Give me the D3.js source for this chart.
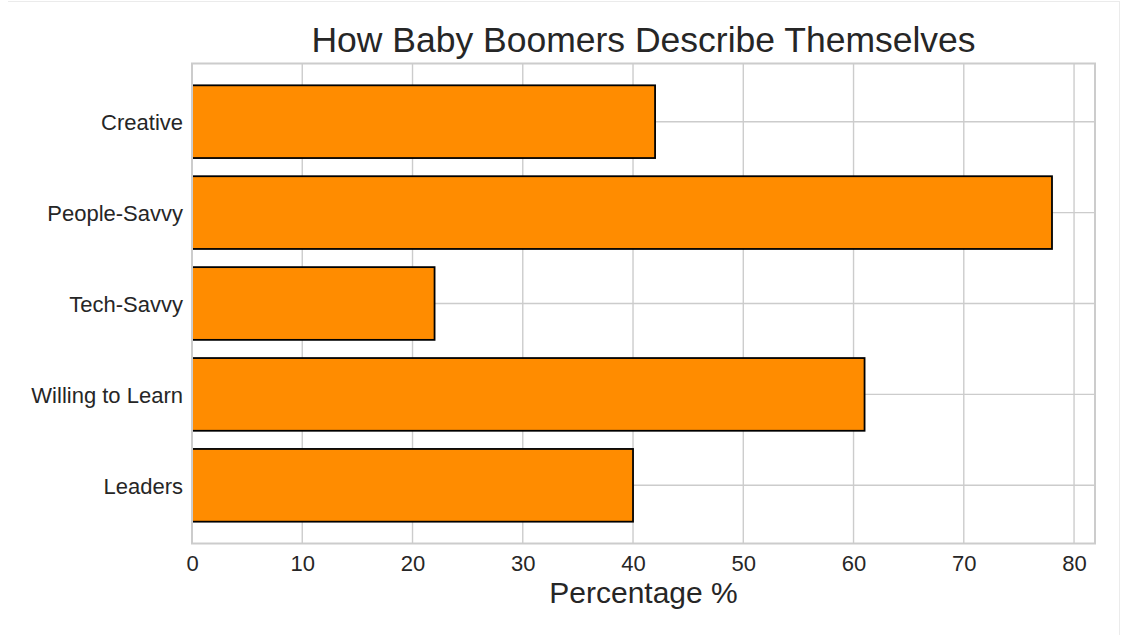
<!DOCTYPE html>
<html>
<head>
<meta charset="utf-8">
<script src="https://cdn.jsdelivr.net/npm/d3@7"></script>
<style>
  body { margin: 0; background: #fff; }
  svg { display: block; font-family: "Liberation Sans", Arial, sans-serif; }
</style>
</head>
<body>
<svg id="chart" width="1127" height="635"></svg>
<script>
const categories = ["Creative", "People-Savvy", "Tech-Savvy", "Willing to Learn", "Leaders"];
const percentages = [42, 78, 22, 61, 40];
const xTicks = [0, 10, 20, 30, 40, 50, 60, 70, 80];

const svg = d3.select("#chart");
const margin = {top: 63.5, right: 32, bottom: 91.5, left: 192};
const W = 1127, H = 635;
const plotW = W - margin.left - margin.right;
const plotH = H - margin.top - margin.bottom;
const textColor = "#262626";
const gridColor = "#cccccc";

// faint frame of the figure
svg.append("line").attr("x1", 8).attr("x2", 1119.5).attr("y1", 1.5).attr("y2", 1.5)
    .attr("stroke", "#ebebeb").attr("stroke-width", 1);
svg.append("line").attr("x1", 1119.5).attr("x2", 1119.5).attr("y1", 1).attr("y2", H)
    .attr("stroke", "#ebebeb").attr("stroke-width", 1);

const g = svg.append("g").attr("transform", `translate(${margin.left},${margin.top})`);

let x = d3.scaleLinear()
    .domain([0, d3.max(percentages) * 1.05])
    .range([0, plotW]);
let y = d3.scaleBand()
    .domain(categories)
    .range([0, plotH])
    .paddingInner(0.2)
    .paddingOuter(0.24);

// grid
g.append("g").selectAll("line").data(xTicks).enter().append("line")
    .attr("x1", d => x(d)).attr("x2", d => x(d))
    .attr("y1", 0).attr("y2", plotH)
    .attr("stroke", gridColor).attr("stroke-width", 1.4);
g.append("g").selectAll("line").data(categories).enter().append("line")
    .attr("x1", 0).attr("x2", plotW)
    .attr("y1", d => y(d) + y.bandwidth() / 2).attr("y2", d => y(d) + y.bandwidth() / 2)
    .attr("stroke", gridColor).attr("stroke-width", 1.4);

// bars
g.append("g").selectAll("rect").data(percentages).enter().append("rect")
    .attr("x", x(0))
    .attr("y", (d, i) => y(categories[i]))
    .attr("width", d => x(d) - x(0))
    .attr("height", y.bandwidth())
    .attr("fill", "#ff8c00")
    .attr("stroke", "#000")
    .attr("stroke-width", 1.8);

// spines
g.append("rect").attr("x", 0).attr("y", 0).attr("width", plotW).attr("height", plotH)
    .attr("fill", "none").attr("stroke", gridColor).attr("stroke-width", 2);

// axes
let xAxis = g.append("g").attr("transform", `translate(0,${plotH})`)
    .call(d3.axisBottom(x).tickValues(xTicks).tickSize(0).tickPadding(12));
let yAxis = g.append("g")
    .call(d3.axisLeft(y).tickSize(0).tickPadding(9));
[xAxis, yAxis].forEach(a => {
    a.select(".domain").remove();
    a.selectAll("text").attr("fill", textColor).style("font-size", "22px")
        .style("font-family", "'Liberation Sans', Arial, sans-serif");
});
xAxis.selectAll("text").attr("dy", "0.71em");
yAxis.selectAll("text").attr("dy", "0.38em");

// title and label
svg.append("text")
    .attr("x", margin.left + plotW / 2).attr("y", 52)
    .attr("text-anchor", "middle").attr("fill", textColor)
    .style("font-size", "35.5px")
    .text("How Baby Boomers Describe Themselves");
svg.append("text")
    .attr("x", margin.left + plotW / 2).attr("y", 603)
    .attr("text-anchor", "middle").attr("fill", textColor)
    .style("font-size", "30px")
    .text("Percentage %");
</script>
</body>
</html>
